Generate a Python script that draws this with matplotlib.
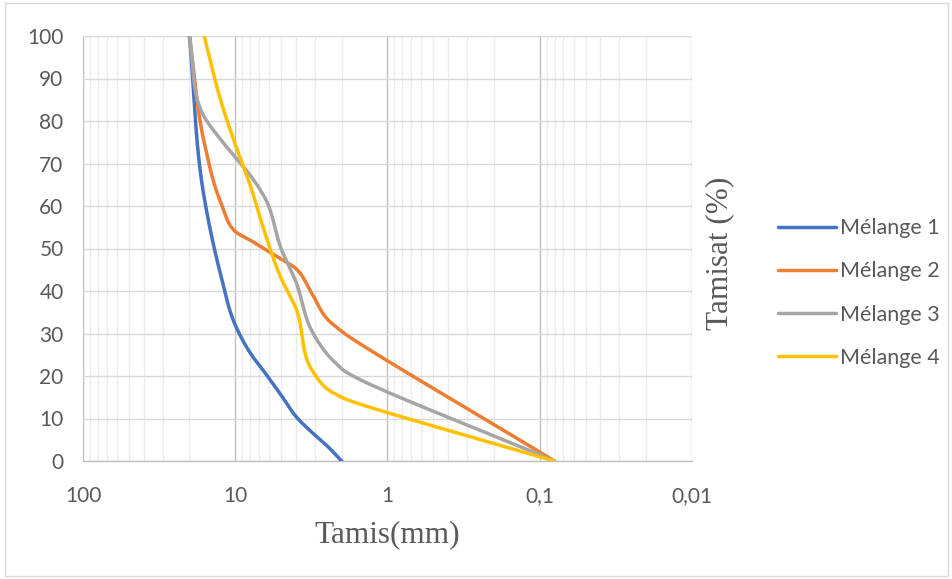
import matplotlib
matplotlib.use("Agg")
import matplotlib.pyplot as plt
import numpy as np
from matplotlib.ticker import FixedLocator, NullFormatter
from matplotlib.patches import Rectangle

# sieve openings (mm) and passing (%)
tamis_1 = [20, 16, 12.5, 10, 8, 6.3, 5, 4, 3.15, 2.5, 2]
melange_1 = [100, 62, 44, 32, 25.5, 20.5, 15.5, 10.5, 6.8, 3.6, 0]

tamis_2 = [20, 16, 12.5, 10, 8, 6.3, 5, 4, 3.15, 2.5, 2, 0.08]
melange_2 = [100, 75, 61, 54, 52, 49.7, 47.5, 45.3, 39.5, 33.5, 30.5, 0]

tamis_3 = [20, 16, 12.5, 10, 8, 6.3, 5, 4, 3.15, 2.5, 2, 0.08]
melange_3 = [100, 81, 75.7, 71.5, 67.3, 61.5, 50, 42.2, 30.7, 25.2, 21.7, 0]

tamis_4 = [16, 12.5, 10, 8, 6.3, 5, 4, 3.15, 2.5, 2, 0.08]
melange_4 = [100, 85, 74.5, 65, 53, 43, 36, 21.5, 17, 15, 0]

labels = ["Mélange 1", "Mélange 2", "Mélange 3", "Mélange 4"]
colors = ["#4472C4", "#ED7D31", "#A5A5A5", "#FFC000"]

xticks = [100, 10, 1, 0.1, 0.01]
xticklabels = ["100", "10", "1", "0,1", "0,01"]

W, H = 953, 579
X0, X1, Y0, Y1 = 83, 692, 36, 461   # plot area in pixels


def smooth(xs, ys, n=40):
    # smoothed line: bezier segments worked out in screen units,
    # tangent leans toward the shorter neighbouring segment,
    # handles on a long segment are kept no longer than the short neighbour
    sx = (X1 - X0) / 4.0
    sy = (Y1 - Y0) / 100.0
    pts = np.column_stack([np.log10(xs) * sx, np.asarray(ys, float) * sy])
    m = len(pts)
    seglen = np.hypot(*(np.diff(pts, axis=0).T))
    dirs = np.diff(pts, axis=0) / seglen[:, None]
    tang = np.zeros_like(pts)
    tang[0] = dirs[0]
    tang[-1] = dirs[-1]
    for i in range(1, m - 1):
        lp, ln = seglen[i - 1], seglen[i]
        v = ln * dirs[i - 1] + lp * dirs[i]
        tang[i] = v / np.hypot(*v)
    t = np.linspace(0, 1, n)[:, None]
    out = []
    for i in range(m - 1):
        p1, p2 = pts[i], pts[i + 1]
        L = seglen[i]
        h1 = L / 3.0 if i == 0 else min(L / 3.0, seglen[i - 1])
        h2 = L / 3.0 if i == m - 2 else min(L / 3.0, seglen[i + 1])
        c1 = p1 + tang[i] * h1
        c2 = p2 - tang[i + 1] * h2
        seg = (1 - t)**3 * p1 + 3 * (1 - t)**2 * t * c1 + 3 * (1 - t) * t**2 * c2 + t**3 * p2
        out.append(seg)
    out = np.vstack(out)
    return 10**(out[:, 0] / sx), out[:, 1] / sy


fig = plt.figure(figsize=(W / 100, H / 100), dpi=100)
ax = fig.add_axes([X0 / W, 1 - Y1 / H, (X1 - X0) / W, (Y1 - Y0) / H])

series = [(tamis_1, melange_1), (tamis_2, melange_2), (tamis_3, melange_3), (tamis_4, melange_4)]
for (xs, ys), lab, col in zip(series, labels, colors):
    sx, sy = smooth(xs, ys)
    ax.plot(sx, sy, color=col, lw=2.5, label=lab, solid_capstyle="round", zorder=3)

ax.set_xscale("log")
ax.set_xlim(100, 0.01)
ax.set_ylim(0, 100)

ax.xaxis.set_major_locator(FixedLocator(xticks))
ax.set_xticklabels(xticklabels)
minor = [m * 10.0**e for e in range(-2, 2) for m in range(2, 10)]
ax.xaxis.set_minor_locator(FixedLocator(minor))
ax.xaxis.set_minor_formatter(NullFormatter())
ax.set_yticks(np.arange(0, 101, 10))

ax.grid(axis="x", which="major", color="#BFBFBF", lw=1.0, zorder=1)
ax.grid(axis="x", which="minor", color="#EBEBEB", lw=1.0, zorder=1)
ax.grid(axis="y", which="major", color="#D9D9D9", lw=1.0, zorder=1)
ax.set_axisbelow(True)

for s in ["top", "right", "left"]:
    ax.spines[s].set_visible(False)
ax.spines["bottom"].set_color("#BFBFBF")
ax.spines["bottom"].set_linewidth(1.0)

ax.tick_params(axis="both", which="both", length=0)
ax.tick_params(axis="y", pad=14)
ax.tick_params(axis="x", pad=18)
for lbl in ax.get_xticklabels() + ax.get_yticklabels():
    lbl.set_fontfamily("Lato")
    lbl.set_fontsize(15)
    lbl.set_color("#595959")

fig.text(387 / W, 1 - 535 / H, "Tamis(mm)", family="Liberation Serif", fontsize=22.5,
         color="#595959", ha="center", va="center")
fig.text(720 / W, 1 - 253 / H, "Tamisat (%)", family="Liberation Serif", fontsize=22.5,
         color="#595959", ha="center", va="center", rotation=90)

leg = ax.legend(loc="center left", bbox_to_anchor=(769 / W, 1 - 293 / H),
                bbox_transform=fig.transFigure, frameon=False,
                prop={"family": "Lato", "size": 15.5}, handlelength=2.7,
                handletextpad=0.2, labelspacing=1.08, borderaxespad=0)
for t in leg.get_texts():
    t.set_color("#595959")

fig.patches.append(Rectangle((5 / W, 3 / H), (W - 10) / W, (H - 6) / H,
                             transform=fig.transFigure, fill=False,
                             edgecolor="#D9D9D9", lw=1.0))

fig.savefig("out.png", dpi=100)
